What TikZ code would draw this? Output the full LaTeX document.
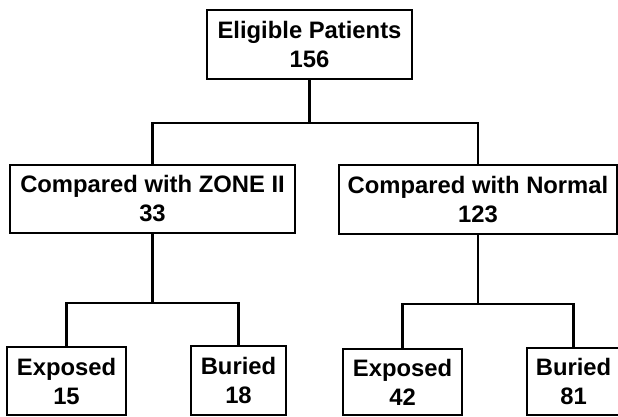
\documentclass[tikz,border=0pt]{standalone}
\usepackage{fontspec}
\setmainfont{Liberation Sans}
\tikzset{
  box/.style={draw, line width=2.6pt, align=center, inner sep=0pt,
    font=\fontsize{23.8}{29}\selectfont\bfseries},
  link/.style={line width=2.6pt}
}

\begin{document}
\begin{tikzpicture}[x=1pt,y=-1pt]
	\useasboundingbox (0,0) rectangle (618,416);
	\node[box, minimum width=205pt, minimum height=69pt] (elig) at (309.5,44.5) {Eligible Patients\\156};%top
	\node[box, minimum width=285pt, minimum height=68pt] (zone) at (152.5,199) {Compared with ZONE II\\33};
	\node[box, minimum width=278pt, minimum height=69pt] (normal) at (478,199.5) {Compared with Normal\\123};
	\node[box, minimum width=119pt, minimum height=68pt] (expA) at (66.5,381) {Exposed\\15};%bottom row
	\node[box, minimum width=95pt, minimum height=69pt] (burA) at (238.5,380.5) {Buried\\18};
	\node[box, minimum width=119pt, minimum height=66pt] (expB) at (402.5,382) {Exposed\\42};
	\node[box, minimum width=93pt, minimum height=67pt] (burB) at (573.5,381.5) {Buried\\81};
	\coordinate (bus0) at (309.5,123);
	\coordinate (bus1) at (152.5,303);
	\coordinate (bus2) at (478,304);
	\draw[link] (elig.south) -- (bus0);
	\draw[link] (zone.north) |- (bus0) -| (normal.north);
	\draw[link] (zone.south) -- (bus1);
	\draw[link] (expA.north) |- (bus1) -| (burA.north);
	\draw[link] (normal.south) -- (bus2);
	\draw[link] (expB.north) |- (bus2) -| (burB.north);
\end{tikzpicture}
\end{document}
